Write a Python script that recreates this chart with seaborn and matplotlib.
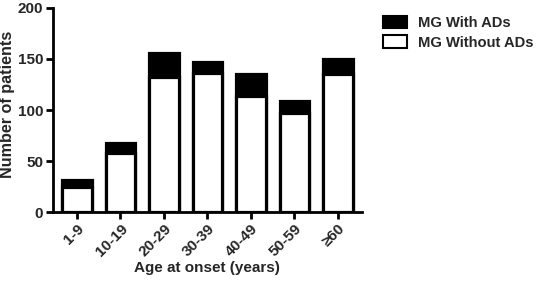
import matplotlib
matplotlib.use("Agg")
import matplotlib.pyplot as plt
import seaborn as sns
import pandas as pd
from matplotlib.patches import Patch

categories = ["1-9", "10-19", "20-29", "30-39", "40-49", "50-59", "≥60"]
with_ads = [6, 10, 24, 11, 21, 12, 15]
without_ads = [25, 58, 132, 136, 114, 97, 135]
totals = [a + b for a, b in zip(with_ads, without_ads)]

df = pd.DataFrame({"age": categories, "total": totals, "without": without_ads})

sns.set_style("ticks")
plt.rcParams["font.family"] = ["Liberation Sans", "DejaVu Sans"]
plt.rcParams["font.weight"] = "bold"

fig = plt.figure(figsize=(5.36, 2.85), dpi=100)
ax = fig.add_axes([0.099, 0.256, 0.576, 0.716])

sns.barplot(data=df, x="age", y="total", color="black", edgecolor="black",
            linewidth=2.3, width=0.68, saturation=1, ax=ax)
sns.barplot(data=df, x="age", y="without", color="white", edgecolor="black",
            linewidth=2.3, width=0.68, saturation=1, ax=ax)

ax.set_xlim(-0.55, 6.55)
ax.set_ylim(0, 200)
ax.set_yticks([0, 50, 100, 150, 200])
ax.set_ylabel("Number of patients", fontsize=11.6, fontweight="bold")
ax.yaxis.set_label_coords(-0.122, 0.53)
ax.set_xlabel("Age at onset (years)", fontsize=11, fontweight="bold", labelpad=1)
ax.set_xticks(range(len(categories)))
ax.set_xticklabels(categories, rotation=45, ha="right", rotation_mode="anchor",
                   fontsize=11, fontweight="bold")
for lab in ax.get_yticklabels():
    lab.set_fontsize(11)
    lab.set_fontweight("bold")

for s in ["top", "right"]:
    ax.spines[s].set_visible(False)
for s in ["left", "bottom"]:
    ax.spines[s].set_linewidth(2)
    ax.spines[s].set_color("black")
ax.tick_params(axis="both", width=2, length=5, color="black", pad=2)

handles = [Patch(facecolor="black", edgecolor="black", linewidth=1.5, label="MG With ADs"),
           Patch(facecolor="white", edgecolor="black", linewidth=1.5, label="MG Without ADs")]
fig.legend(handles=handles, loc="upper left", bbox_to_anchor=(0.69, 0.99),
           frameon=False, handlelength=1.6, handleheight=0.9,
           handletextpad=0.8, labelspacing=0.35, prop={"weight": "bold", "size": 10.6})

fig.savefig("out.png", dpi=100)
